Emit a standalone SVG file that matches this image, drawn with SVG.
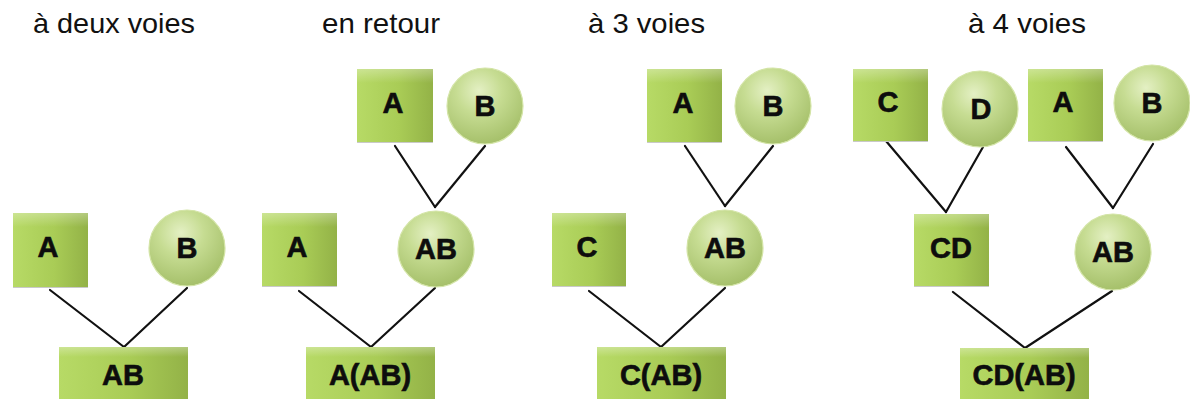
<svg xmlns="http://www.w3.org/2000/svg" width="1190" height="401" viewBox="0 0 1190 401">
<style>
.title{font-family:"Liberation Sans",Arial,sans-serif;font-size:28px;fill:#111}
.lbl{font-family:"Liberation Sans",Arial,sans-serif;font-size:29px;font-weight:bold;fill:#0d0d0d;stroke:#0d0d0d;stroke-width:0.6;text-anchor:middle}
.sq{fill:url(#gsq)}
.sh{fill:#c9c9c9}
.ci{fill:url(#gci);stroke:#d3e4a6;stroke-width:1.2}
.hl{fill:url(#ghl)}
#connectors line{stroke:#111;stroke-width:2.2;stroke-linecap:round}
</style>
<defs>
<linearGradient id="gsq" x1="0" y1="0" x2="1" y2="0">
<stop offset="0" stop-color="#b7da66"/>
<stop offset="0.55" stop-color="#a9cc56"/>
<stop offset="1" stop-color="#93b247"/>
</linearGradient>
<linearGradient id="ghl" x1="0" y1="0" x2="0" y2="1">
<stop offset="0" stop-color="#ffffff" stop-opacity="0.3"/>
<stop offset="1" stop-color="#ffffff" stop-opacity="0"/>
</linearGradient>
<radialGradient id="gci" cx="0.42" cy="0.3" r="0.75">
<stop offset="0" stop-color="#e4f0c4"/>
<stop offset="0.4" stop-color="#c6dc92"/>
<stop offset="1" stop-color="#a2bd66"/>
</radialGradient>
</defs>
<rect width="1190" height="401" fill="#ffffff"/>
<g id="titles">
<text class="title" x="33" y="33" textLength="162" lengthAdjust="spacingAndGlyphs">à deux voies</text>
<text class="title" x="322" y="33" textLength="118" lengthAdjust="spacingAndGlyphs">en retour</text>
<text class="title" x="588" y="33" textLength="117" lengthAdjust="spacingAndGlyphs">à 3 voies</text>
<text class="title" x="968" y="33" textLength="118" lengthAdjust="spacingAndGlyphs">à 4 voies</text>
</g>
<g id="connectors">
<line x1="50" y1="290" x2="124" y2="347"/>
<line x1="187" y1="288" x2="124" y2="347"/>
<line x1="395" y1="146" x2="435" y2="207"/>
<line x1="485" y1="146" x2="435" y2="207"/>
<line x1="299" y1="291" x2="371" y2="347"/>
<line x1="435" y1="288" x2="371" y2="347"/>
<line x1="685" y1="146" x2="725" y2="206"/>
<line x1="773" y1="146" x2="725" y2="206"/>
<line x1="589" y1="291" x2="661" y2="347"/>
<line x1="725" y1="288" x2="661" y2="347"/>
<line x1="886" y1="141" x2="946" y2="212"/>
<line x1="983" y1="147" x2="946" y2="212"/>
<line x1="1066" y1="147" x2="1113" y2="208"/>
<line x1="1153" y1="144" x2="1113" y2="208"/>
<line x1="953" y1="292" x2="1025" y2="348"/>
<line x1="1112" y1="291" x2="1025" y2="348"/>
</g>
<g id="p1-A"><rect class="sh" x="13" y="286" width="75" height="2"/><rect class="sq" x="13" y="213" width="75" height="74"/><rect class="hl" x="13" y="213" width="75" height="14"/><text class="lbl" x="48" y="257">A</text></g>
<g id="p1-B"><circle class="ci" cx="187" cy="248" r="38"/><text class="lbl" x="187" y="258">B</text></g>
<g id="p1-AB"><rect class="sq" x="59" y="347" width="129" height="52"/><rect class="hl" x="59" y="347" width="129" height="10"/><text class="lbl" x="123" y="385">AB</text></g>

<g id="p2-A-top"><rect class="sh" x="357" y="141" width="76" height="2"/><rect class="sq" x="357" y="69" width="76" height="73"/><rect class="hl" x="357" y="69" width="76" height="14"/><text class="lbl" x="393" y="113">A</text></g>
<g id="p2-B-top"><circle class="ci" cx="485" cy="106" r="38"/><text class="lbl" x="485" y="116">B</text></g>
<g id="p2-A"><rect class="sh" x="262" y="285" width="75" height="2"/><rect class="sq" x="262" y="213" width="75" height="73"/><rect class="hl" x="262" y="213" width="75" height="14"/><text class="lbl" x="297" y="257">A</text></g>
<g id="p2-AB"><circle class="ci" cx="436" cy="249" r="38"/><text class="lbl" x="436" y="259">AB</text></g>
<g id="p2-AAB"><rect class="sq" x="306" y="347" width="129" height="52"/><rect class="hl" x="306" y="347" width="129" height="10"/><text class="lbl" x="370" y="385">A(AB)</text></g>

<g id="p3-A-top"><rect class="sh" x="647" y="141" width="75" height="2"/><rect class="sq" x="647" y="69" width="75" height="73"/><rect class="hl" x="647" y="69" width="75" height="14"/><text class="lbl" x="683" y="113">A</text></g>
<g id="p3-B-top"><circle class="ci" cx="773" cy="106" r="38"/><text class="lbl" x="773" y="116">B</text></g>
<g id="p3-C"><rect class="sh" x="552" y="285" width="74" height="2"/><rect class="sq" x="552" y="213" width="74" height="73"/><rect class="hl" x="552" y="213" width="74" height="14"/><text class="lbl" x="587" y="257">C</text></g>
<g id="p3-AB"><circle class="ci" cx="725" cy="248" r="38"/><text class="lbl" x="725" y="258">AB</text></g>
<g id="p3-CAB"><rect class="sq" x="597" y="347" width="129" height="52"/><rect class="hl" x="597" y="347" width="129" height="10"/><text class="lbl" x="661" y="385">C(AB)</text></g>

<g id="p4-C"><rect class="sh" x="853" y="140" width="75" height="2"/><rect class="sq" x="853" y="69" width="75" height="72"/><rect class="hl" x="853" y="69" width="75" height="14"/><text class="lbl" x="888" y="112">C</text></g>
<g id="p4-D"><circle class="ci" cx="980" cy="109" r="38"/><text class="lbl" x="981" y="119">D</text></g>
<g id="p4-A"><rect class="sh" x="1028" y="140" width="75" height="2"/><rect class="sq" x="1028" y="69" width="75" height="72"/><rect class="hl" x="1028" y="69" width="75" height="14"/><text class="lbl" x="1063" y="112">A</text></g>
<g id="p4-B"><circle class="ci" cx="1152" cy="103" r="38"/><text class="lbl" x="1152" y="113">B</text></g>
<g id="p4-CD"><rect class="sh" x="914" y="285" width="75" height="2"/><rect class="sq" x="914" y="214" width="75" height="72"/><rect class="hl" x="914" y="214" width="75" height="14"/><text class="lbl" x="951" y="258">CD</text></g>
<g id="p4-AB"><circle class="ci" cx="1113" cy="252" r="38"/><text class="lbl" x="1113" y="262">AB</text></g>
<g id="p4-CDAB"><rect class="sq" x="960" y="348" width="129" height="51"/><rect class="hl" x="960" y="348" width="129" height="10"/><text class="lbl" x="1024" y="385">CD(AB)</text></g>
</svg>
